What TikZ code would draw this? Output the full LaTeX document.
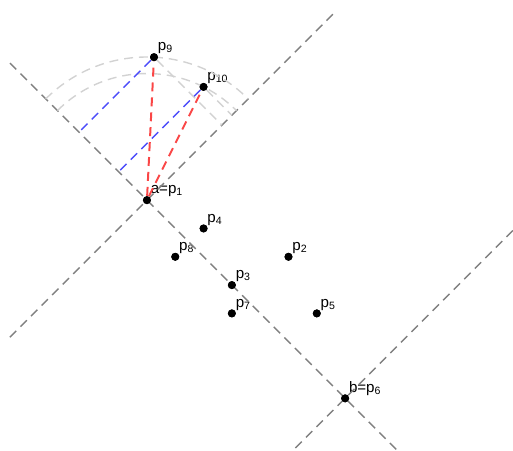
\documentclass[tikz,border=0pt]{standalone}
\usepackage{fontspec}
\setmainfont{Liberation Sans}
\usetikzlibrary{calc}

\definecolor{projblue}{RGB}{77,77,250}
\definecolor{projred}{RGB}{250,70,70}

\begin{document}
\begin{tikzpicture}[x=0.5cm,y=0.5cm,
  pt/.style={circle,fill=black,inner sep=0pt,minimum size=4pt},
  lbl/.style={font=\fontsize{7.6}{8}\selectfont,inner sep=0pt,anchor=base west,
    xshift=0.2pt,yshift=1.6pt},
  axisline/.style={gray,line width=0.7pt,dash pattern=on 4.5pt off 3pt},
  arcline/.style={gray!35,line width=0.7pt,dash pattern=on 4.5pt off 3pt},
  bluline/.style={projblue,line width=0.7pt,dash pattern=on 4.5pt off 3pt},
  redline/.style={projred,line width=1pt,dash pattern=on 4.5pt off 3pt}]

  \useasboundingbox (-5.19,-8.83) rectangle (12.93,7.07);
  \clip (-5.19,-8.83) rectangle (12.93,7.07);

  % points
  \node[pt,label={[lbl]north east:a=p\textsubscript{1}}] (p1) at (0,0) {};
  \node[pt,label={[lbl]north east:p\textsubscript{2}}] (p2) at (5,-2) {};
  \node[pt,label={[lbl]north east:p\textsubscript{3}}] (p3) at (3,-3) {};
  \node[pt,label={[lbl]north east:p\textsubscript{4}}] (p4) at (2,-1) {};
  \node[pt,label={[lbl]north east:p\textsubscript{5}}] (p5) at (6,-4) {};
  \node[pt,label={[lbl]north east:b=p\textsubscript{6}}] (p6) at (7,-7) {};
  \node[pt,label={[lbl]north east:p\textsubscript{7}}] (p7) at (3,-4) {};
  \node[pt,label={[lbl]north east:p\textsubscript{8}}] (p8) at (1,-2) {};
  \node[pt,label={[lbl]north east:p\textsubscript{9}}] (p9) at (0.25,5.05) {};
  \node[pt,label={[lbl]north east:p\textsubscript{10}}] (p10) at (2,4) {};

  % axis ends
  \coordinate (ab1) at (-4.84,4.84);
  \coordinate (ab2) at (9.5,-9.5);
  \coordinate (pa1) at (-4.84,-4.84);
  \coordinate (pa2) at (6.64,6.64);
  \coordinate (pb1) at ($(p6)+(-2.5,-2.5)$);
  \coordinate (pb2) at ($(p6)+(6.5,6.5)$);

  \draw[axisline] (ab1) -- (ab2);
  \draw[axisline] (pa1) -- (pa2);
  \draw[axisline] (pb1) -- (pb2);

  % arcs round a
  \draw[arcline] ($(p1)+(135:2.528cm)$) arc[start angle=135,end angle=45,radius=2.528cm];
  \draw[arcline] ($(p1)+(135:2.236cm)$) arc[start angle=135,end angle=45,radius=2.236cm];
  \draw[arcline] (p9) -- ($(pa1)!(p9)!(pa2)$);
  \draw[arcline] (p10) -- ($(pa1)!(p10)!(pa2)$);

  % projections
  \draw[bluline] (p9) -- ($(ab1)!(p9)!(ab2)$);
  \draw[bluline] (p10) -- ($(ab1)!(p10)!(ab2)$);
  \draw[redline] (p1) -- (p9);
  \draw[redline] (p1) -- (p10);

  \foreach \i in {1,...,10}
    \fill (p\i) circle (2pt);
\end{tikzpicture}
\end{document}
